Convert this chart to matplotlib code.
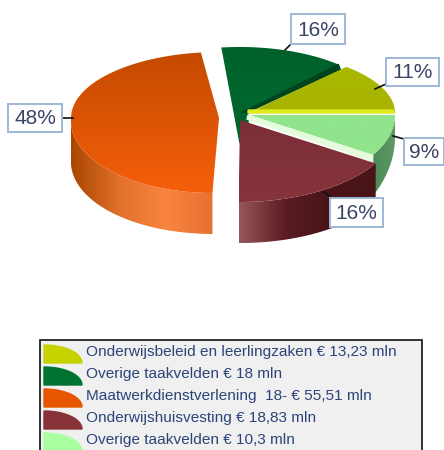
import numpy as np
import matplotlib
matplotlib.use("Agg")
import matplotlib.pyplot as plt
from matplotlib.colors import LinearSegmentedColormap
from matplotlib.patches import Polygon, Rectangle

# Data
categories = ["Onderwijsbeleid en leerlingzaken € 13,23 mln",
              "Overige taakvelden € 18 mln",
              "Maatwerkdienstverlening  18- € 55,51 mln",
              "Onderwijshuisvesting € 18,83 mln",
              "Overige taakvelden € 10,3 mln"]
values = [13.23, 18, 55.51, 18.83, 10.3]
pct_labels = ["11%", "16%", "48%", "16%", "9%"]

# Slice geometry (pixels): centre, x radius, y radius above / below centre
centers = [(248, 113), (240, 115), (219, 118), (240, 120), (248, 115)]
x_radius = [147, 147, 148, 160, 147]
ry_top = [62, 68, 66, 68, 68]
ry_bottom = [76, 76, 75, 82, 76]
shear = [0, 0, 0.07, 0, 0]
DEPTH = 41

top_colors = [["#a8b800", "#a8b400"], ["#00602a", "#006a30"],
              ["#c44a00", "#f55f0a"], ["#7c2e36", "#86343c"],
              ["#90e48c", "#90e48c"]]
wall_colors = [None, None,
               ["#a84600", "#e0702a", "#f98440", "#e87030"],
               ["#96585c", "#5a1c22", "#481418", "#481418"],
               ["#4e8a58", "#5c9a66"]]
legend_colors = ["#c8d200", "#007332", "#e65500", "#873238", "#aaffa0"]

# label box (x0, y0, x1, y1) and leader line
label_boxes = [(386, 58, 439, 86), (291, 14, 345, 44), (8, 104, 62, 132),
               (330, 198, 383, 227), (404, 138, 444, 165)]
leaders = [((375, 89), (386, 84)), ((285, 50), (291, 44)), ((62, 118), (73, 118)),
           ((324, 192), (332, 198)), ((393, 136), (404, 139))]

angles = np.concatenate([[0], np.cumsum(values)]) / np.sum(values) * 360


def arc(i, a0, a1, n=80):
    cx, cy = centers[i]
    a = np.linspace(a0, a1, n)
    # the far right quarter looks squeezed in the picture
    a = np.where((a > 0) & (a < 90), a + 7 * np.sin(np.radians(2 * a)), a)
    t = np.radians(a)
    ry = np.where(np.sin(t) > 0, ry_top[i], ry_bottom[i])
    y = cy - ry * np.sin(t)
    x = cx + x_radius[i] * np.cos(t) - shear[i] * np.clip(y - cy, 0, None)
    return np.column_stack([x, y])


def gradient_fill(ax, pts, colors, vertical=True, zorder=2):
    # gradient image clipped to the polygon
    cmap = LinearSegmentedColormap.from_list("g", colors)
    ramp = np.linspace(0, 1, 256)
    img = ramp[:, None] if vertical else ramp[None, :]
    x0, y0 = pts.min(axis=0)
    x1, y1 = pts.max(axis=0)
    im = ax.imshow(img, cmap=cmap, extent=(x0, x1, y1, y0), aspect="auto",
                   zorder=zorder, interpolation="bilinear")
    im.set_clip_path(Polygon(pts, closed=True, transform=ax.transData))


fig = plt.figure(figsize=(4.44, 4.5), dpi=100)
ax = fig.add_axes([0, 0, 1, 1])
plt.rcParams["font.family"] = ["Liberation Sans", "DejaVu Sans"]

draw_order = [2, 1, 0, 4, 3]
z = 2
for i in draw_order:
    cx, cy = centers[i]
    a0, a1 = angles[i], angles[i + 1]
    pts = arc(i, a0, a1)
    # side wall on the front part of the slice
    if wall_colors[i] is not None:
        front = arc(i, max(a0, 180), a1)
        depth = np.full(len(front), DEPTH)
        if i == 4:
            depth = np.linspace(DEPTH, 22, len(front))
        lower = front + np.column_stack([np.zeros(len(front)), depth])
        wall = np.vstack([front, lower[::-1]])
        gradient_fill(ax, wall, wall_colors[i], vertical=False, zorder=z)
    z += 1
    # cut faces that show next to the top surface
    if i == 1:
        ax.add_patch(Polygon([pts[-1], (cx, cy + 28), (cx + 8, cy + 10), (cx + 8, cy - 7), (cx, cy - 15)],
                             color="#00642c", zorder=z + 2))
        edge = pts[0]
        ax.add_patch(Polygon([(cx + 1, cy - 2), edge, edge + [2, 5], (cx + 8, cy - 3)],
                             color="#00441e", zorder=z + 2))
    if i == 4:
        edge = pts[0]
        ax.add_patch(Polygon([(cx, cy), edge, edge + [-2, 5], (cx - 1, cy + 4)],
                             color="#e4fbdc", zorder=z + 2))
        ax.add_patch(Polygon([edge, edge + [-2, 5], edge + [-3, DEPTH + 3], edge + [0, DEPTH]],
                             color="#e4fbdc", zorder=z + 2))
    top = np.vstack([[(cx, cy)], pts])
    gradient_fill(ax, top, top_colors[i], zorder=z + 1)
    if i == 0:
        end = pts[0]
        ax.add_patch(Polygon([(cx, cy - 3), end + [-2, -3], end, (cx, cy)],
                             color="#dcea1e", zorder=z + 2))
    z += 3

# percentage labels
for i in range(len(pct_labels)):
    x0, y0, x1, y1 = label_boxes[i]
    ax.plot(*zip(*leaders[i]), color="#101010", lw=1.2, zorder=30)
    ax.add_patch(Rectangle((x0, y0), x1 - x0, y1 - y0, fc="white", ec="#9db8d6",
                           lw=1.4, zorder=31))
    ax.text((x0 + x1) / 2, (y0 + y1) / 2 + 1, pct_labels[i], ha="center", va="center",
            fontsize=15, color="#3a4468", zorder=32)

# legend, runs off the bottom of the picture
ax.add_patch(Rectangle((40, 340), 382, 125, fc="#f0f0f0", ec="#222222", lw=1.3, zorder=40))
row_y = [352, 374, 396, 418, 440]
for i in range(len(categories)):
    y = row_y[i]
    t = np.radians(np.linspace(0, 90, 30))
    swatch = np.column_stack([44 + 38 * np.sin(t), y + 11 - 18 * np.cos(t)])
    ax.add_patch(Polygon(np.vstack([[(44, y + 11)], swatch]), color=legend_colors[i], zorder=41))
    ax.text(86, y, categories[i], ha="left", va="center", fontsize=11.1,
            color="#2c4478", zorder=42)

ax.set_xlim(0, 444)
ax.set_ylim(450, 0)
ax.axis("off")
fig.savefig("out.png", dpi=100)
